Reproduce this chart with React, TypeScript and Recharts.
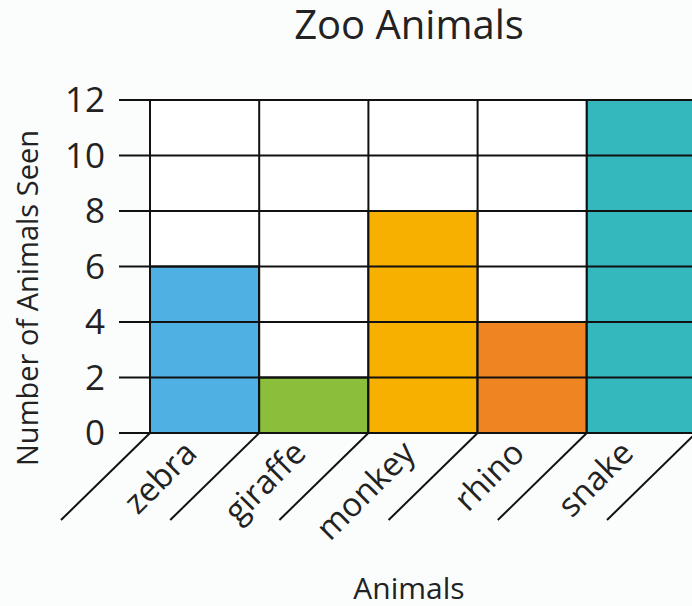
import { BarChart, Bar, XAxis, YAxis, CartesianGrid, Cell, ReferenceLine, Label } from 'recharts'

const ANIMALS = ['zebra', 'giraffe', 'monkey', 'rhino', 'snake']
const SEEN = [6, 2, 8, 4, 12]
const COLOURS = ['#4FB1E3', '#8BBE3A', '#F7B000', '#EE8520', '#34B8BD']
const Y_TICKS = [0, 2, 4, 6, 8, 10, 12]

const W = 720, H = 606
const M = { top: 100, right: 24, bottom: 0, left: 0 }
const XH = 173
const YW = 150
const INK = '#222'
const FONT = '"Open Sans", sans-serif'

const data = ANIMALS.map((a, i) => ({ animal: a, seen: SEEN[i] }))
const band = (W - M.left - M.right - YW) / ANIMALS.length

function AnimalTick({ x, y, payload, index }: any) {
  const left = x - band / 2
  const right = x + band / 2
  const tx = x - 6, ty = y + 22
  return (
    <g>
      <line x1={left} y1={y} x2={left - 89} y2={y + 87} stroke="#111" strokeWidth={2} />
      {index === ANIMALS.length - 1 && (
        <line x1={right} y1={y} x2={right - 89} y2={y + 87} stroke="#111" strokeWidth={2} />
      )}
      <text x={tx} y={ty} textAnchor="end" transform={`rotate(-45 ${tx} ${ty})`}
        fontSize={33} fill={INK} fontFamily={FONT}>{payload.value}</text>
    </g>
  )
}

export default function App() {
  return (
    <div style={{ position: 'fixed', left: 0, top: 0, width: 692, height: 606, overflow: 'hidden', background: '#fbfcfc', fontFamily: FONT }}>
      <div style={{ position: 'absolute', left: 0, width: 818, top: 0, textAlign: 'center', fontSize: 40, color: INK, lineHeight: '48px' }}>Zoo Animals</div>
      <BarChart width={W} height={H} data={data} margin={M} barCategoryGap={0}>
        <CartesianGrid fill="#fff" stroke="#111" strokeWidth={2} horizontal={false}
          verticalCoordinatesGenerator={({ offset }: any) => ANIMALS.map((_, i) => offset.left + i * offset.width / ANIMALS.length)} />
        <XAxis dataKey="animal" tick={<AnimalTick />} tickLine={false} tickSize={0} tickMargin={0} height={XH}
          axisLine={{ stroke: '#111', strokeWidth: 2 }} interval={0}>
          <Label content={() => <text x={409} y={599} textAnchor="middle" fontSize={30} fill={INK} fontFamily={FONT}>Animals</text>} />
        </XAxis>
        <YAxis width={YW} domain={[0, 12]} ticks={Y_TICKS} interval={0} tickSize={31} tickMargin={14}
          tick={{ fontSize: 35, fill: INK, fontFamily: FONT }}
          tickLine={{ stroke: '#111', strokeWidth: 2 }} axisLine={{ stroke: '#111', strokeWidth: 2 }}>
          <Label content={() => <text x={38} y={298} textAnchor="middle" transform="rotate(-90 38 298)" fontSize={29} fill={INK} fontFamily={FONT}>Number of Animals Seen</text>} />
        </YAxis>
        <Bar dataKey="seen" stroke="#111" strokeWidth={2} isAnimationActive={false}>
          {data.map((d, i) => <Cell key={d.animal} fill={COLOURS[i]} />)}
        </Bar>
        {Y_TICKS.map(t => <ReferenceLine key={t} y={t} stroke="#111" strokeWidth={2} />)}
      </BarChart>
    </div>
  )
}
